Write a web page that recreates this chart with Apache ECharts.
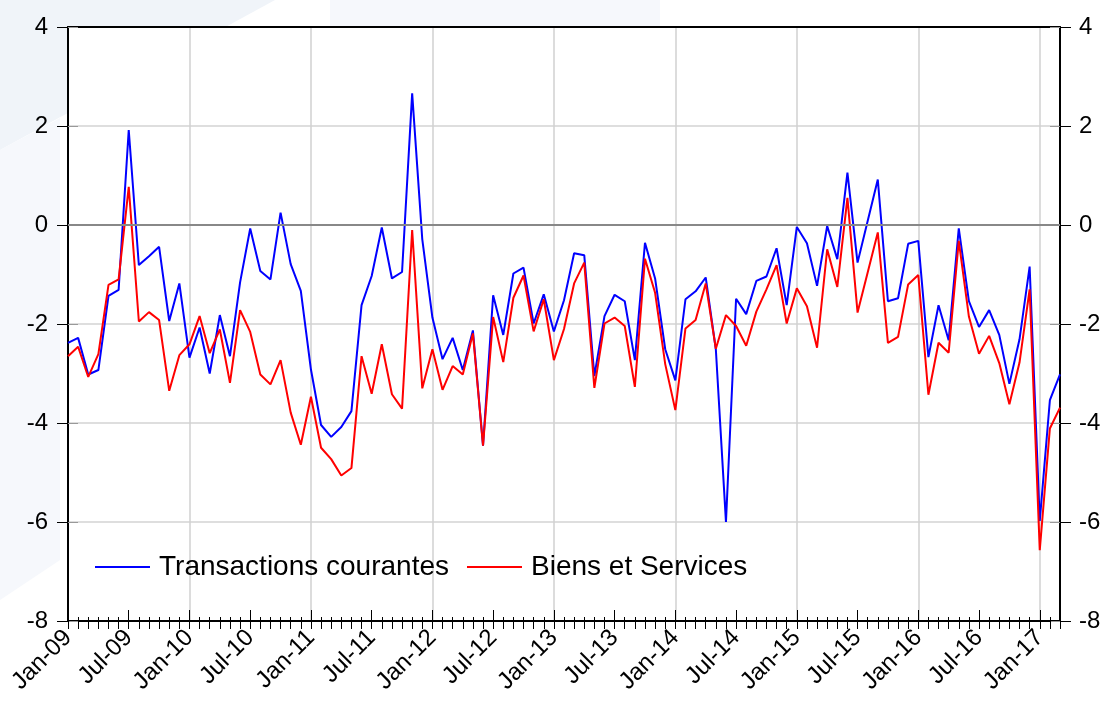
<!DOCTYPE html>
<html lang="fr">
<head>
  <meta charset="UTF-8" />
  <title>Transactions courantes / Biens et Services</title>
  <script src="https://cdn.jsdelivr.net/npm/echarts@6/dist/echarts.min.js"></script>
  <style>
    * { margin: 0; padding: 0; }
    body { background: #fff; }
    #chart { width: 1107px; height: 707px; }
  </style>
</head>
<body>
  <div id="chart"></div>
  <script>
    // mois Jan-09 .. Mar-17
    const monthNames = ['Jan', 'Feb', 'Mar', 'Apr', 'May', 'Jun', 'Jul', 'Aug', 'Sep', 'Oct', 'Nov', 'Dec'];
    const months = [];
    for (let y = 9; y <= 17; y++) {
      monthNames.forEach((m, k) => {
        if (y === 17 && k > 2) return;
        months.push(m + '-' + String(y).padStart(2, '0'));
      });
    }

    const transactionsCourantes = [
      -2.38, -2.28, -3.02, -2.93, -1.43, -1.31, 1.92, -0.81, -0.63, -0.44, -1.94, -1.18,
      -2.68, -2.07, -3.00, -1.82, -2.65, -1.16, -0.07, -0.93, -1.10, 0.25, -0.79, -1.33,
      -2.92, -4.04, -4.28, -4.08, -3.76, -1.62, -1.03, -0.05, -1.08, -0.95, 2.66, -0.29,
      -1.87, -2.71, -2.28, -2.93, -2.13, -4.46, -1.42, -2.22, -0.98, -0.86, -1.99, -1.40,
      -2.15, -1.52, -0.57, -0.61, -3.05, -1.84, -1.41, -1.54, -2.73, -0.36, -1.08, -2.51,
      -3.14, -1.50, -1.34, -1.06, -2.51, -6.00, -1.49, -1.80, -1.13, -1.04, -0.47, -1.62,
      -0.04, -0.37, -1.23, -0.02, -0.69, 1.06, -0.76, 0.08, 0.92, -1.54, -1.48, -0.38,
      -0.32, -2.67, -1.62, -2.33, -0.07, -1.54, -2.06, -1.72, -2.22, -3.21, -2.31, -0.84,
      -5.98, -3.54, -3.02
    ];

    const biensEtServices = [
      -2.65, -2.46, -3.07, -2.61, -1.21, -1.10, 0.77, -1.95, -1.76, -1.92, -3.35, -2.63,
      -2.41, -1.84, -2.59, -2.11, -3.19, -1.72, -2.16, -3.02, -3.22, -2.73, -3.79, -4.44,
      -3.47, -4.50, -4.73, -5.06, -4.91, -2.65, -3.41, -2.41, -3.42, -3.71, -0.10, -3.30,
      -2.51, -3.33, -2.85, -3.02, -2.19, -4.46, -1.86, -2.77, -1.47, -1.02, -2.15, -1.50,
      -2.73, -2.10, -1.18, -0.76, -3.29, -1.99, -1.87, -2.04, -3.27, -0.68, -1.37, -2.81,
      -3.74, -2.09, -1.92, -1.18, -2.50, -1.82, -2.04, -2.44, -1.75, -1.30, -0.81, -1.99,
      -1.28, -1.64, -2.48, -0.49, -1.25, 0.55, -1.77, -0.96, -0.15, -2.38, -2.26, -1.20,
      -1.01, -3.43, -2.38, -2.58, -0.32, -1.85, -2.60, -2.24, -2.79, -3.62, -2.78, -1.30,
      -6.57, -4.11, -3.69
    ];

    const yMin = -8, yMax = 4, yStep = 2;
    const font = "'Liberation Sans', Arial, sans-serif";

    const chart = echarts.init(document.getElementById('chart'));

    const hiddenX = (extra) => Object.assign({
      type: 'category', data: months, boundaryGap: false, position: 'bottom',
      axisLine: { show: false, onZero: false }, axisLabel: { show: false }, splitLine: { show: false }
    }, extra);

    const hiddenY = (pos) => ({
      type: 'value', min: yMin, max: yMax, interval: yStep, position: pos,
      axisLine: { show: false }, axisLabel: { show: false }, splitLine: { show: false },
      axisTick: { show: true, inside: true, length: 10, lineStyle: { color: '#999', width: 1 } }
    });

    chart.setOption({
      animation: false,
      backgroundColor: '#fff',
      graphic: [
        { type: 'polygon', z: -10, shape: { points: [[0, 0], [275, 0], [0, 150]] }, style: { fill: '#f0f4f9' } },
        { type: 'polygon', z: -10, shape: { points: [[0, 150], [60, 118], [60, 560], [0, 600]] }, style: { fill: '#f6f8fc' } },
        { type: 'rect', z: -10, shape: { x: 330, y: 0, width: 330, height: 26 }, style: { fill: '#f6f8fc' } }
      ],
      grid: { left: 68, right: 47, top: 27, bottom: 86, containLabel: false, show: true, backgroundColor: '#fff', borderWidth: 0 },
      legend: {
        left: 90, top: 548, icon: 'rect',
        itemWidth: 55, itemHeight: 2, itemGap: 18,
        textStyle: { fontSize: 28, color: '#000', fontFamily: font, padding: [0, 0, 0, 4] },
        data: ['Transactions courantes', 'Biens et Services']
      },
      xAxis: [
        {
          type: 'category', data: months, boundaryGap: false, position: 'bottom',
          axisLine: { onZero: false, lineStyle: { color: '#000', width: 2 } },
          axisTick: { interval: 0, length: 8, lineStyle: { color: '#000', width: 1 } },
          axisLabel: {
            interval: (i) => i % 6 === 0, rotate: 45, margin: 13,
            fontSize: 24, color: '#000', fontFamily: font
          },
          splitLine: {
            show: true, interval: (i) => i % 12 === 0 && i > 0,
            lineStyle: { color: '#d0d0d0', width: 1.5 }
          }
        },
        hiddenX({ axisTick: { interval: 0, inside: true, length: 4, lineStyle: { color: '#000' } } }),
        hiddenX({ axisTick: { interval: (i) => i % 6 === 0, inside: true, length: 11, lineStyle: { color: '#000' } } }),
        hiddenX({ position: 'top', axisLine: { show: true, onZero: false, lineStyle: { color: '#000', width: 2 } }, axisTick: { show: false } })
      ],
      yAxis: [
        {
          type: 'value', min: yMin, max: yMax, interval: yStep, position: 'left',
          axisLine: { show: true, lineStyle: { color: '#000', width: 2 } },
          axisTick: { show: true, length: 11, lineStyle: { color: '#000' } },
          axisLabel: { margin: 20, fontSize: 24, color: '#000', fontFamily: font },
          splitLine: { lineStyle: { color: '#d3d3d3', width: 1.5 } }
        },
        {
          type: 'value', min: yMin, max: yMax, interval: yStep, position: 'right',
          axisLine: { show: true, lineStyle: { color: '#000', width: 2 } },
          axisTick: { show: true, length: 11, lineStyle: { color: '#000' } },
          axisLabel: { margin: 19, fontSize: 24, color: '#000', fontFamily: font },
          splitLine: { show: false }
        },
        hiddenY('left'),
        hiddenY('right')
      ],
      series: [
        {
          name: 'zero', type: 'line', data: [], z: 1, silent: true,
          markLine: {
            silent: true, symbol: 'none', label: { show: false },
            lineStyle: { color: '#888', width: 2, type: 'solid' },
            data: [{ yAxis: 0 }]
          }
        },
        {
          name: 'Transactions courantes', type: 'line', data: transactionsCourantes,
          symbol: 'none', z: 3, lineStyle: { color: '#0000ff', width: 2 }, itemStyle: { color: '#0000ff' }
        },
        {
          name: 'Biens et Services', type: 'line', data: biensEtServices,
          symbol: 'none', z: 4, lineStyle: { color: '#ff0000', width: 2 }, itemStyle: { color: '#ff0000' }
        }
      ]
    });
  </script>
</body>
</html>
